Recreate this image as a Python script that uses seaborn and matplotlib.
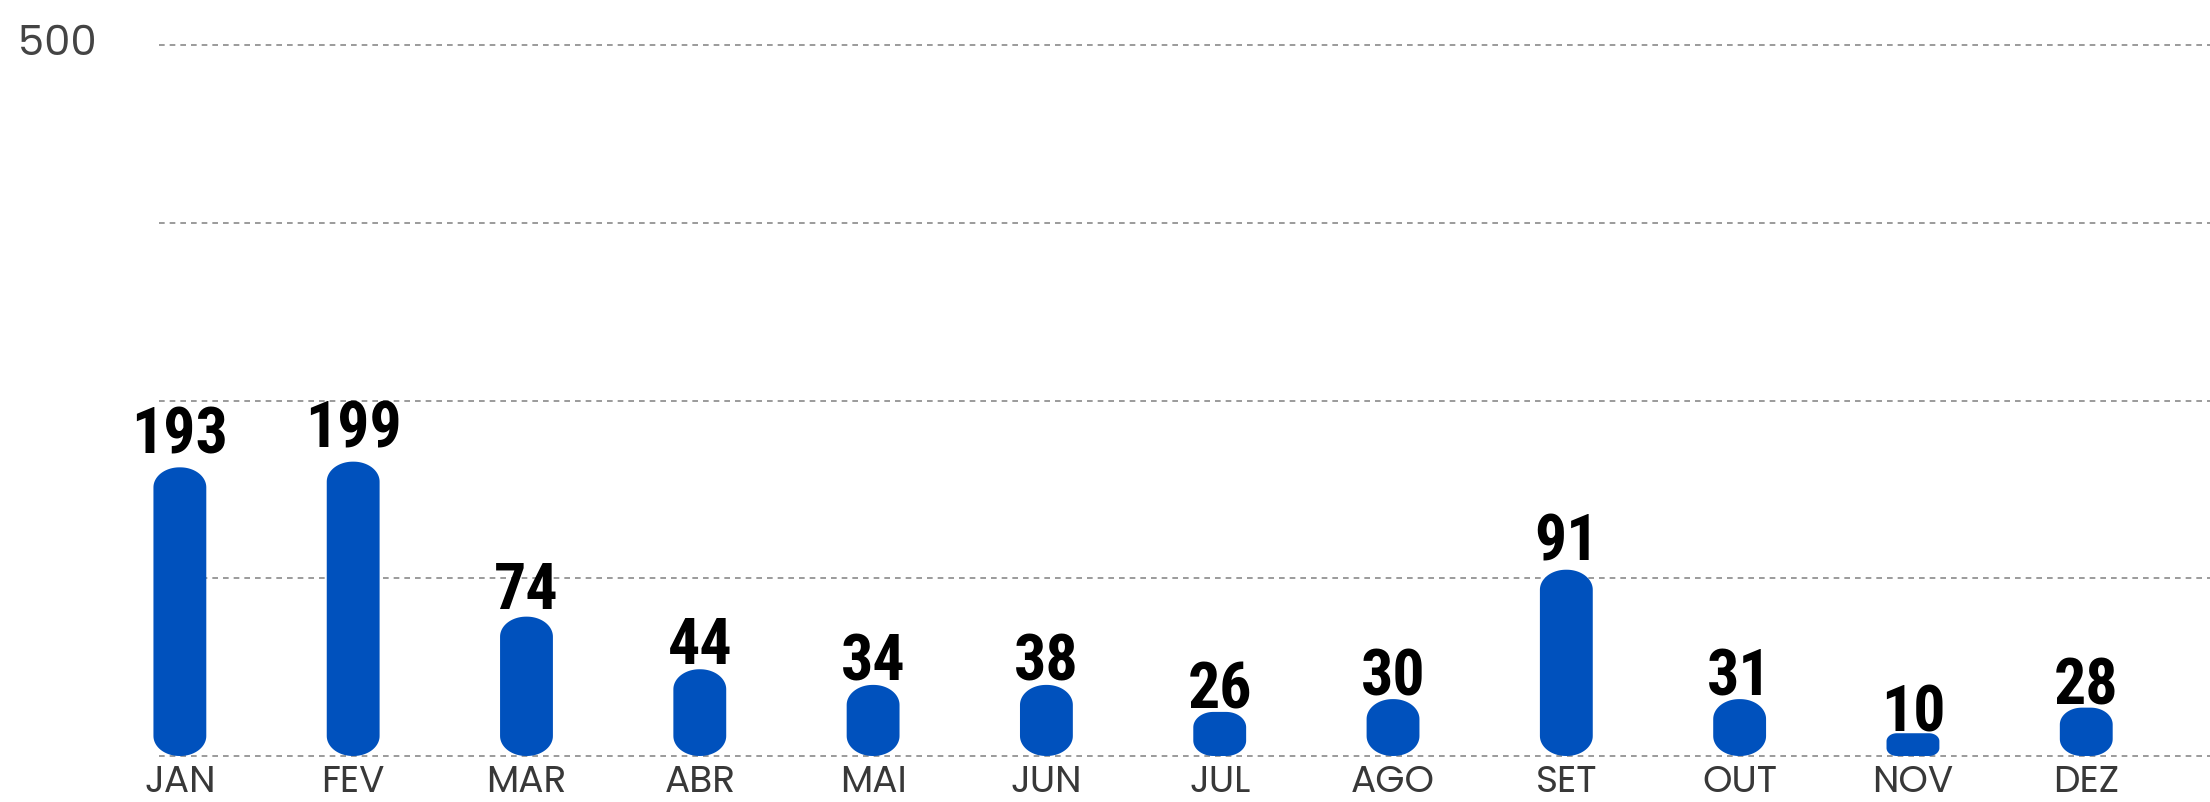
"""Gráfico de barras mensais com cantos arredondados (recriação)."""

import matplotlib
matplotlib.use("Agg")
import matplotlib.pyplot as plt
import numpy as np
import pandas as pd
import seaborn as sns
from matplotlib import font_manager
from matplotlib.patches import Polygon

# ==========================================
# DADOS
# ==========================================

meses = ["JAN", "FEV", "MAR", "ABR", "MAI", "JUN",
         "JUL", "AGO", "SET", "OUT", "NOV", "DEZ"]
totais = [193, 199, 74, 44, 34, 38, 26, 30, 91, 31, 10, 28]
# Altura das barras lida contra o eixo; no original ela não bate com o rótulo
alturas = [203, 207, 98, 61, 50, 50, 31, 40, 131, 40, 16, 34]
ticks_y = [0, 125, 250, 375, 500]

AZUL = "#0051BD"
CINZA_TEXTO = "#383838"
CINZA_GRADE = "#8a8a8a"


def fonte_disponivel(*nomes):
    instaladas = {f.name for f in font_manager.fontManager.ttflist}
    for nome in nomes:
        if nome in instaladas:
            return nome
    return "DejaVu Sans"


def contorno_arredondado(x0, largura, altura, rx, ry, n=24):
    """Polígono de uma barra com cantos elípticos (rx, ry em unidades de dados)."""
    t = np.linspace(0, np.pi / 2, n)
    cantos = [
        (x0 + largura - rx, ry, -np.pi / 2),
        (x0 + largura - rx, altura - ry, 0.0),
        (x0 + rx, altura - ry, np.pi / 2),
        (x0 + rx, ry, np.pi),
    ]
    pontos = []
    for cx, cy, a0 in cantos:
        ang = a0 + t
        pontos.extend(zip(cx + rx * np.cos(ang), cy + ry * np.sin(ang)))
    return pontos


fonte_texto = fonte_disponivel("Poppins", "Open Sans")
fonte_numero = fonte_disponivel("Liberation Sans Narrow", "Roboto Condensed", "Roboto")

sns.set_theme(style="white")
plt.rcParams["font.family"] = [fonte_texto, "DejaVu Sans"]

df = pd.DataFrame({"mes": meses, "altura": alturas, "total": totais})

fig = plt.figure(figsize=(22.1, 8.03), dpi=100)
ax = fig.add_axes([0.0719, 0.0573, 0.9281, 0.8854])

sns.barplot(data=df, x="mes", y="altura", color=AZUL, width=0.305,
            saturation=1, ax=ax)

ax.set_ylim(0, 500)
ax.set_xlim(-0.121, 11.714)

# Troca os retângulos do seaborn por barras arredondadas
origem = ax.transData.transform((0, 0))
px_x = ax.transData.transform((1, 0))[0] - origem[0]
px_y = ax.transData.transform((0, 1))[1] - origem[1]

for barra in list(ax.patches):
    x0, largura, altura = barra.get_x(), barra.get_width(), barra.get_height()
    h_px = altura * px_y
    ry_px = min(20, 0.35 * h_px)
    rx_px = min(largura * px_x / 2, 1.3 * ry_px)
    pontos = contorno_arredondado(x0, largura, altura, rx_px / px_x, ry_px / px_y)
    ax.add_patch(Polygon(pontos, closed=True, facecolor=AZUL,
                         edgecolor="none", zorder=3, clip_on=False))
    barra.remove()

# Rótulos com o total de cada mês
for i, linha in df.iterrows():
    folga = (2 + 0.045 * linha["altura"] * px_y) * 72 / fig.dpi
    ax.annotate(str(linha["total"]), xy=(i, linha["altura"]),
                xytext=(0, folga), textcoords="offset points",
                ha="center", va="baseline", fontsize=46, fontweight="bold",
                family=[fonte_numero, "DejaVu Sans"], color="black", zorder=4)

# Grade tracejada
ax.set_yticks(ticks_y)
ax.set_yticklabels([])
ax.yaxis.grid(True, color=CINZA_GRADE, linewidth=1.2, linestyle=(0, (3.4, 3.0)))
ax.xaxis.grid(False)
ax.set_axisbelow(True)
for linha_grade in ax.get_ygridlines():
    linha_grade.set_clip_on(False)

for spine in ax.spines.values():
    spine.set_visible(False)

ax.tick_params(axis="y", length=0)
ax.tick_params(axis="x", length=0, pad=5, labelsize=27, labelcolor=CINZA_TEXTO)
ax.set_xlabel("")
ax.set_ylabel("")

# Só o valor máximo aparece no eixo Y, no canto superior esquerdo
ax.annotate(str(ticks_y[-1]), xy=(0, ticks_y[-1]),
            xycoords=("axes fraction", "data"),
            xytext=(-101.5, 0.5), textcoords="offset points",
            ha="left", va="center", fontsize=30, color="#444444")

fig.savefig("out.png", dpi=100)
plt.close(fig)
